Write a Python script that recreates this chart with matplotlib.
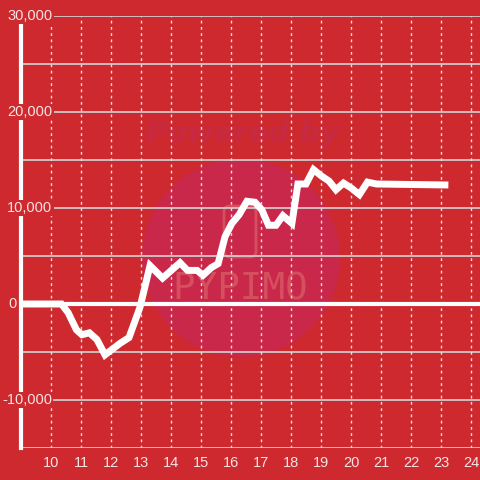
import matplotlib
matplotlib.use("Agg")
import matplotlib.pyplot as plt
import matplotlib.transforms as mtrans
from matplotlib.patches import Circle, FancyBboxPatch

# hours (x) and cumulative value (y)
hours = [9.0, 10.35, 10.57, 10.85, 11.03, 11.28, 11.53, 11.8, 12.05, 12.3, 12.6,
         12.97, 13.3, 13.72, 14.3, 14.55, 14.87, 15.07, 15.35, 15.57, 15.8,
         16.03, 16.27, 16.53, 16.8, 17.03, 17.25, 17.5, 17.73, 18.03, 18.23,
         18.5, 18.75, 19.03, 19.27, 19.5, 19.75, 20.0, 20.28, 20.55, 20.85, 23.13]
values = [0, 0, -900, -2700, -3200, -3000, -3700, -5300, -4700, -4100, -3500,
          -300, 4000, 2700, 4300, 3500, 3500, 3000, 3800, 4200, 7000,
          8400, 9300, 10700, 10600, 9800, 8200, 8200, 9200, 8400, 12500,
          12500, 14000, 13300, 12800, 11900, 12600, 12100, 11400, 12700, 12500, 12400]

yticks = [-10000, 0, 10000, 20000, 30000]
ytick_labels = ["-10,000", "0", "10,000", "20,000", "30,000"]
xticks = list(range(10, 25))

bg = "#cd292e"
txt = "#f6e4e4"

plt.rcParams['font.family'] = ['Liberation Sans', 'DejaVu Sans']
fig = plt.figure(figsize=(4.8, 4.8), dpi=100, facecolor=bg)
ax = fig.add_axes([21 / 480, 32 / 480, 1 - 21 / 480, (448 - 16) / 480])
ax.set_facecolor(bg)

# watermark
ax.add_patch(Circle((241 / 480, 1 - 258 / 480), 99 / 480, transform=fig.transFigure,
                    facecolor="#c9284a", edgecolor="none", zorder=0.2))
ax.text(243 / 480, 1 - 134 / 480, "Powered by", transform=fig.transFigure,
        family="DejaVu Sans", fontsize=21, fontweight="bold", style="italic",
        color="#c82a42", ha="center", va="center", zorder=0.3)
ax.text(240 / 480, 1 - 290 / 480, "PYPIMO", transform=fig.transFigure,
        family="DejaVu Sans Mono", fontsize=27, color="#d5505f",
        ha="center", va="center", zorder=0.3)
ax.add_patch(FancyBboxPatch((224 / 480, 1 - 257 / 480), 32 / 480, 51 / 480,
                            boxstyle="round,pad=0,rounding_size=0.012",
                            transform=fig.transFigure, facecolor="none",
                            edgecolor="#d5505f", linewidth=2, zorder=0.3))

ax.set_xlim(9.0, 24.3)
ax.set_ylim(-15000, 30000)

# horizontal grid every 5000, vertical dotted every hour
for yv in range(-15000, 30001, 5000):
    if yv == 0:
        continue
    ax.axhline(yv, color="#d4d4d4", lw=1.2, zorder=1)
ax.axhline(0, color="white", lw=3, zorder=1.5)
for xv in xticks:
    ax.axvline(xv, color="#e0e0e0", lw=1, ls=(0, (2, 2.5)), zorder=1)

ax.plot(hours, values, color="white", lw=5, solid_joinstyle="miter", zorder=3)

for s in ["top", "right", "bottom"]:
    ax.spines[s].set_visible(False)
ax.spines["left"].set_color("white")
ax.spines["left"].set_linewidth(3)
ax.spines["left"].set_zorder(2)

ax.set_yticks([])
ax.set_xticks(xticks)
ax.set_xticklabels([str(x) for x in xticks], color=txt, fontsize=10.5)
ax.tick_params(axis="x", length=0, pad=6)

lab_tr = mtrans.blended_transform_factory(fig.transFigure, ax.transData)
lab_x = [2, 8, 7, 7, 7]
for yv, lab, lx in zip(yticks, ytick_labels, lab_x):
    ax.text(lx / 480, yv, lab, transform=lab_tr, ha="left",
            va="center", fontsize=10.5, color=txt, zorder=4, clip_on=False,
            bbox=dict(facecolor=bg, edgecolor="none", pad=1.0))

fig.savefig("out.png", dpi=100, facecolor=bg)
